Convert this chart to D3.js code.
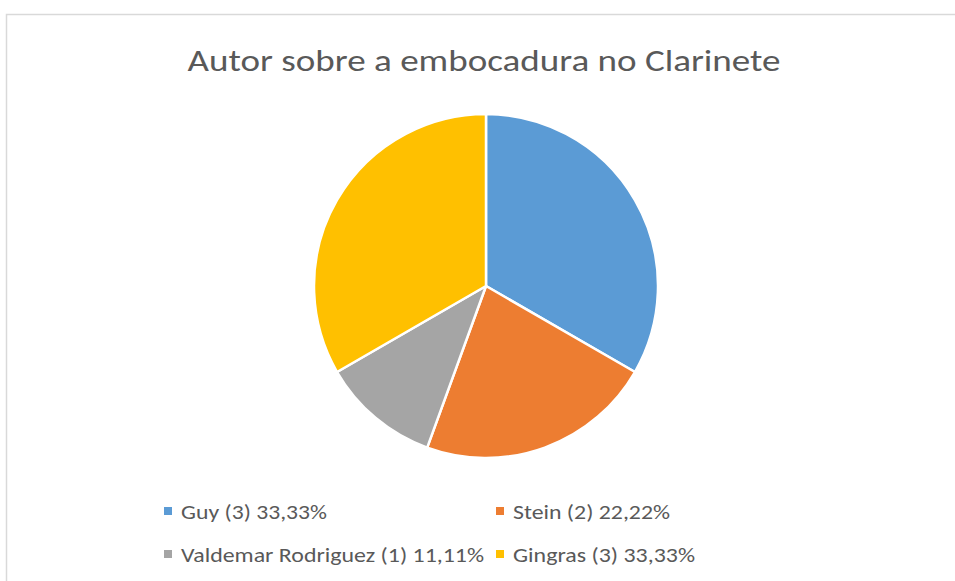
<!DOCTYPE html>
<html><head><meta charset="utf-8">
<script src="https://cdn.jsdelivr.net/npm/d3@7"></script>
<style>html,body{margin:0;padding:0;background:#fff;}svg{display:block;}</style>
</head><body>
<svg id="chart" width="955" height="581"></svg>
<script>
const title = "Autor sobre a embocadura no Clarinete";
const categories = ["Guy", "Stein", "Valdemar Rodriguez", "Gingras"];
const counts = [3, 2, 1, 3];
const percentLabels = ["33,33%", "22,22%", "11,11%", "33,33%"];
const colors = ["#5B9BD5", "#ED7D31", "#A5A5A5", "#FFC000"];

const svg = d3.select("#chart");
const textColor = "#595959";
const font = "Carlito, Calibri, Lato, 'Open Sans', sans-serif";

svg.append("rect").attr("x", 6.5).attr("y", 14.5).attr("width", 1000).attr("height", 700)
  .attr("fill", "#fff").attr("stroke", "#D9D9D9").attr("stroke-width", 1.5);

svg.append("text").attr("x", 484).attr("y", 71).attr("text-anchor", "middle")
  .attr("font-family", font).attr("font-size", 30).attr("fill", textColor)
  .attr("textLength", 593).attr("lengthAdjust", "spacingAndGlyphs")
  .text(title);

const data = categories.map((c, i) => ({name: c, value: counts[i], pct: percentLabels[i], color: colors[i]}));
const pie = d3.pie().sort(null).value(d => d.value).startAngle(0).endAngle(2 * Math.PI);
const arc = d3.arc().innerRadius(0).outerRadius(172);
const color = d3.scaleOrdinal().domain(categories).range(colors);

svg.append("g").attr("transform", "translate(486,286)")
  .selectAll("path").data(pie(data)).join("path")
  .attr("d", arc).attr("fill", d => color(d.data.name))
  .attr("stroke", "#fff").attr("stroke-width", 2.5).attr("stroke-linejoin", "round");

const legendPos = [
  {x: 164, y: 519, w: 146},
  {x: 496, y: 519, w: 157},
  {x: 164, y: 562, w: 303},
  {x: 496, y: 562, w: 182}
];
const lg = svg.append("g");
data.forEach((d, i) => {
  const p = legendPos[i];
  lg.append("rect").attr("x", p.x).attr("y", p.y - 12).attr("width", 8).attr("height", 8)
    .attr("fill", color(d.name));
  lg.append("text").attr("x", p.x + 17).attr("y", p.y)
    .attr("font-family", font).attr("font-size", 20).attr("fill", textColor)
    .attr("textLength", p.w).attr("lengthAdjust", "spacingAndGlyphs")
    .text(`${d.name} (${d.value}) ${d.pct}`);
});
</script>
</body></html>
